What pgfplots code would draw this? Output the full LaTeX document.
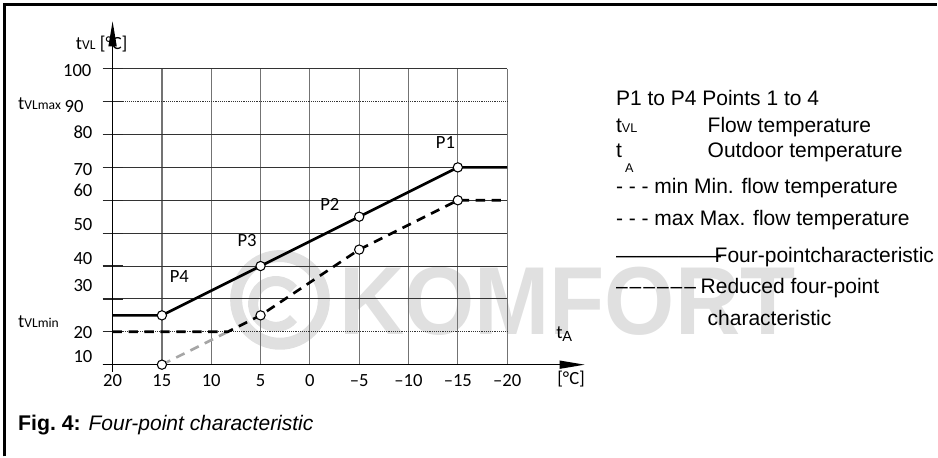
\documentclass[border=0pt]{standalone}
\usepackage{pgfplots}
\pgfplotsset{compat=1.18}
\usepackage{pgfplotstable}
\usepackage{fontspec}
\setmainfont{Carlito}
\newfontfamily\arial{Liberation Sans}
\usetikzlibrary{arrows.meta}
\newcommand\chf{\fontsize{14}{16}\selectfont}
\newcommand\subf{\fontsize{10.2}{12}\selectfont}
\newcommand\lgf{\arial\fontsize{15.8}{18}\selectfont}

\pgfplotstableread{
x y
20 25
15 25
5 40
-5 55
-15 70
-20 70
}\fourpoint
\pgfplotstableread{
x y
20 20
8.33 20
5 25
-5 45
-15 60
-20 60
}\reducedA
\pgfplotstableread{
x y
15 10
8.33 20
}\reducedB
\pgfplotstableread{
x y
15 25
5 40
-5 55
-15 70
15 10
5 25
-5 45
-15 60
}\points

\begin{document}
\begin{tikzpicture}
\begin{scope}[x=0.75pt,y=-0.75pt]
\useasboundingbox (0,0) rectangle (938,457);
% watermark
\draw[black!12, line width=9pt] (281,301) circle (33pt);
\draw[black!12, line width=7.5pt] (277,305) ++(40:17.25pt) arc[start angle=40, end angle=320, radius=17.25pt];
\node[anchor=base west, inner sep=0, xscale=0.935, text=black!12] at (340,336) {\arial\bfseries\fontsize{72.7}{80}\selectfont KOMFORT};
\end{scope}

\begin{axis}[
  at={(233.25pt,-163.125pt)}, anchor=center,
  scale only axis, width=297pt, height=222.75pt,
  xmin=-20, xmax=20, x dir=reverse,
  ymin=10, ymax=100,
  clip=false,
  axis line style={draw=none},
  xtick={20,15,10,5,0,-5,-10,-15,-20},
  xticklabels={20,15,10,5,0,–5,–10,–15,–20},
  xtick style={draw=none},
  xtick align=inside,
  xticklabel style={font=\chf, anchor=base, yshift=-16.5pt},
  xmajorgrids,
  x grid style={black!55, line width=0.9pt},
  ytick={10,30,40,50,60,70,80,100},
  yticklabels={{},{},{},{},{},{},{},{}},
  ytick pos=left,
  ytick align=center,
  major tick length=15pt,
  ytick style={black!85, line width=0.9pt},
  ymajorgrids,
  y grid style={black!80, line width=0.8pt},
  extra y ticks={20,90},
  extra y tick labels={{},{}},
  extra y tick style={ymajorgrids=true, major grid style={black!45, densely dotted, line width=0.7pt}, tick style={black!85, solid, line width=0.9pt}},
]
\addplot[black!35, line width=2pt, dash pattern=on 7pt off 5pt] table {\reducedB};
\addplot[black, line width=2pt, dash pattern=on 7pt off 5pt] table {\reducedA};
\addplot[black, line width=2pt] table {\fourpoint};
\draw[black, line width=1.1pt, -{Triangle[length=19pt,width=6pt]}] (axis cs:20,7.9) -- (axis cs:20,114.5);
\draw[black, line width=1.1pt, -{Triangle[length=19pt,width=6pt]}] (axis cs:21.01,10) -- (axis cs:-27.88,10);
\addplot[only marks, mark=*, mark size=3.5pt, mark options={fill=white, draw=black, line width=0.8pt}] table {\points};
\node[font=\chf] at (axis cs:-13.74,77.6) {P1};
\node[font=\chf] at (axis cs:-2.02,58.8) {P2};
\node[font=\chf] at (axis cs:6.36,47.9) {P3};
\node[font=\chf] at (axis cs:13.23,36.7) {P4};
\end{axis}

\begin{scope}[x=0.75pt,y=-0.75pt]
% frame
\draw[line width=2.1pt] (4.2,458) -- (4.2,4.5) -- (940,4.5);
% y tick labels
\begin{scope}[every node/.style={anchor=base east, inner sep=0, font=\chf}]
\node at (92,77) {100};
\node at (84,113) {90};
\node at (93,139) {80};
\node at (93,176) {70};
\node at (93,197) {60};
\node at (93,231) {50};
\node at (93,265) {40};
\node at (93,293) {30};
\node at (93,340) {20};
\node at (93,364) {10};
\end{scope}
\begin{scope}[every node/.style={anchor=base west, inner sep=0, font=\chf}]
\node at (76,50) {t{\subf VL} [°C]};
\node at (18,110) {t{\subf VLmax}};
\node at (18,329) {t{\subf VLmin}};
\node at (558,340) {t\raisebox{-2pt}{\fontsize{11}{11}\selectfont\arial A}};
\node at (559,386) {[°C]};
\end{scope}
% legend text
\begin{scope}[every node/.style={anchor=base west, inner sep=0, font=\lgf}]
\node at (618,106) {P1 to P4 Points 1 to 4};
\node at (618,133) {t{\fontsize{9.5}{10}\selectfont VL}};
\node at (710,133) {Flow temperature};
\node at (618,158) {t};
\node at (627,173) {\fontsize{9.5}{10}\selectfont A};
\node at (710,158) {Outdoor temperature};
\node at (618,194) {- - - min Min. flow temperature};
\node at (618,226) {- - - max Max. flow temperature};
\node at (618,263) {—————};
\node at (717,263) {Four-pointcharacteristic};
\node at (618,295) {–\kern1.5pt–\kern1.5pt–\kern1.5pt–\kern1.5pt–\kern1.5pt–};
\node at (703,295) {Reduced four-point};
\node at (710,327) {characteristic};
% caption
\node at (18,432) {\fontsize{16}{18}\selectfont\bfseries Fig.~4: \mdseries\arial\itshape\fontsize{15.8}{18}\selectfont Four-point characteristic};
\end{scope}
\end{scope}
\end{tikzpicture}
\end{document}
